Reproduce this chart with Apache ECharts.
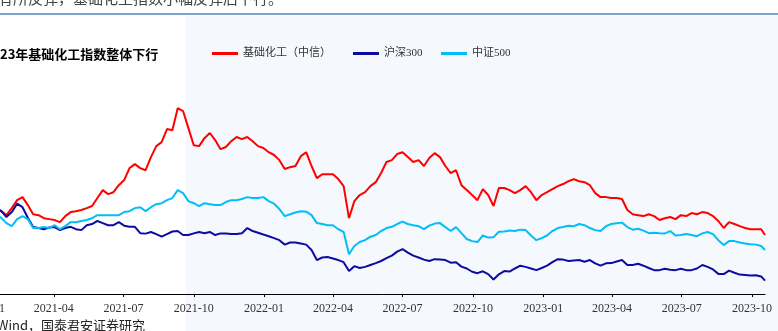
<!DOCTYPE html>
<html>
<head>
<meta charset="utf-8">
<script src="https://cdn.jsdelivr.net/npm/echarts@6/dist/echarts.min.js"></script>
<style>
  html, body { margin: 0; padding: 0; background: #ffffff; }
  #chart { width: 778px; height: 331px; }
</style>
</head>
<body>
<div id="chart"></div>
<script>
// ---------- data (start ≈ 100) ----------
const dates = [
  '2021-01-04','2021-01-08','2021-01-15',
  '2021-01-22','2021-01-29','2021-02-05','2021-02-12','2021-02-19','2021-02-26','2021-03-05','2021-03-12','2021-03-19','2021-03-26',
  '2021-04-02','2021-04-09','2021-04-16','2021-04-23','2021-04-30','2021-05-07','2021-05-14','2021-05-21','2021-05-28','2021-06-04',
  '2021-06-11','2021-06-18','2021-06-25','2021-07-02','2021-07-09','2021-07-16','2021-07-23','2021-07-30','2021-08-06','2021-08-13',
  '2021-08-20','2021-08-27','2021-09-03','2021-09-10','2021-09-17','2021-09-24','2021-10-01','2021-10-08','2021-10-15','2021-10-22',
  '2021-10-29','2021-11-05','2021-11-12','2021-11-19','2021-11-26','2021-12-03','2021-12-10','2021-12-17','2021-12-24','2021-12-31',
  '2022-01-07','2022-01-14','2022-01-21','2022-01-28','2022-02-04','2022-02-11','2022-02-18','2022-02-25','2022-03-04','2022-03-11',
  '2022-03-18','2022-03-25','2022-04-01','2022-04-08','2022-04-15','2022-04-22','2022-04-29','2022-05-06','2022-05-13','2022-05-20',
  '2022-05-27','2022-06-03','2022-06-10','2022-06-17','2022-06-24','2022-07-01','2022-07-08','2022-07-15','2022-07-22','2022-07-29',
  '2022-08-05','2022-08-12','2022-08-19','2022-08-26','2022-09-02','2022-09-09','2022-09-16','2022-09-23','2022-09-30','2022-10-07',
  '2022-10-14','2022-10-21','2022-10-28','2022-11-04','2022-11-11','2022-11-18','2022-11-25','2022-12-02','2022-12-09','2022-12-16',
  '2022-12-23','2022-12-30','2023-01-06','2023-01-13','2023-01-20','2023-01-27','2023-02-03','2023-02-10','2023-02-17','2023-02-24',
  '2023-03-03','2023-03-10','2023-03-17','2023-03-24','2023-03-31','2023-04-07','2023-04-14','2023-04-21','2023-04-28','2023-05-05',
  '2023-05-12','2023-05-19','2023-05-26','2023-06-02','2023-06-09','2023-06-16','2023-06-23','2023-06-30','2023-07-07','2023-07-14',
  '2023-07-21','2023-07-28','2023-08-04','2023-08-11','2023-08-18','2023-08-25','2023-09-01','2023-09-08','2023-09-15','2023-09-22',
  '2023-09-29','2023-10-06','2023-10-13','2023-10-18'
];

const chemical = [ // 基础化工（中信）
  100.0, 100.4, 101.7,
  100.4, 98.7, 101.7, 105.1, 106.4, 103.0, 99.1, 98.7, 97.4, 97.0,
  96.6, 95.7, 98.3, 100.0, 100.4, 100.9, 101.7, 102.6, 106.0, 109.4,
  107.7, 108.5, 111.5, 113.7, 118.8, 120.5, 118.8, 117.9, 123.5, 128.2,
  129.9, 135.5, 135.0, 144.4, 143.2, 135.9, 128.6, 128.2, 131.6, 133.8,
  130.8, 126.9, 127.8, 130.3, 132.1, 131.2, 132.1, 130.3, 128.2, 127.4,
  125.6, 124.4, 122.2, 118.4, 119.2, 119.7, 123.9, 125.6, 119.7, 114.5,
  116.2, 116.2, 116.2, 114.1, 111.1, 97.4, 104.7, 107.3, 108.5, 111.1,
  112.8, 116.7, 121.4, 122.2, 124.8, 125.6, 123.5, 121.4, 122.2, 119.7,
  123.1, 125.2, 123.5, 119.7, 116.7, 117.9, 111.5, 109.4, 107.3, 105.1,
  109.8, 107.3, 102.6, 110.3, 110.3, 109.4, 108.1, 109.4, 111.1, 108.5,
  105.1, 107.3, 108.5, 109.8, 111.1, 112.0, 113.2, 114.1, 113.2, 112.8,
  111.5, 108.1, 106.4, 106.4, 106.0, 106.0, 105.6, 100.9, 99.1, 98.7,
  98.3, 99.1, 98.3, 96.6, 97.4, 97.9, 97.0, 98.7, 98.3, 99.6,
  99.1, 100.0, 99.6, 98.3, 96.2, 93.2, 95.7, 94.9, 94.0, 93.2,
  92.7, 92.7, 92.7, 90.2
];

const hs300 = [ // 沪深300
  100.0, 100.4, 101.3,
  100.6, 97.9, 100.0, 103.6, 102.1, 97.6, 93.6, 93.2, 92.7, 93.4,
  93.6, 92.3, 93.2, 93.7, 92.7, 92.3, 94.4, 94.9, 96.2, 95.3,
  94.4, 94.4, 95.7, 94.2, 93.7, 93.7, 91.0, 90.8, 91.5, 90.6,
  89.5, 90.6, 91.7, 91.9, 90.2, 90.2, 90.9, 91.5, 91.0, 91.5,
  90.2, 90.9, 90.9, 90.6, 90.6, 91.0, 93.2, 91.9, 91.2, 90.4,
  89.7, 88.9, 88.0, 86.1, 87.0, 87.0, 86.6, 86.1, 83.8, 79.5,
  80.6, 80.8, 80.2, 79.5, 78.6, 74.8, 76.9, 76.1, 76.6, 77.4,
  78.2, 79.1, 80.3, 81.4, 83.1, 84.2, 82.7, 81.4, 80.6, 79.7,
  79.1, 79.9, 79.7, 79.5, 78.4, 78.6, 76.7, 75.9, 74.5, 73.9,
  74.7, 73.5, 71.2, 73.4, 74.8, 74.6, 75.9, 77.1, 76.6, 75.9,
  75.2, 76.1, 77.1, 78.6, 79.9, 79.7, 79.1, 79.3, 79.5, 78.8,
  79.5, 78.1, 77.1, 78.1, 78.2, 78.9, 79.5, 77.4, 77.4, 77.9,
  77.1, 76.1, 75.2, 75.2, 75.8, 75.4, 75.2, 75.8, 75.2, 75.2,
  75.9, 77.4, 76.6, 75.5, 73.6, 73.5, 75.0, 74.1, 73.3, 73.1,
  72.9, 73.0, 72.5, 70.7
];

const csi500 = [ // 中证500
  100.0, 99.6, 98.7,
  97.6, 95.3, 94.0, 97.0, 98.3, 97.0, 93.2, 93.2, 93.6, 93.2,
  94.4, 92.7, 94.0, 95.7, 95.7, 96.2, 96.6, 97.4, 98.7, 98.7,
  98.7, 98.7, 98.7, 100.0, 100.4, 101.7, 102.1, 100.4, 102.1, 103.4,
  103.8, 105.1, 106.0, 109.4, 108.1, 104.7, 103.8, 102.6, 103.8, 103.4,
  103.0, 103.0, 104.3, 105.1, 105.1, 105.6, 106.4, 106.0, 106.0, 106.4,
  104.7, 103.6, 101.3, 98.3, 99.1, 99.8, 100.4, 100.2, 98.7, 95.3,
  94.9, 94.4, 94.4, 92.7, 91.5, 82.0, 85.5, 87.2, 88.0, 89.5,
  90.2, 91.9, 93.2, 93.7, 94.9, 95.9, 94.9, 94.4, 94.0, 92.7,
  94.2, 95.1, 95.3, 93.6, 91.9, 93.6, 91.0, 88.5, 87.6, 87.2,
  90.0, 89.1, 89.3, 91.6, 91.7, 92.1, 91.9, 92.5, 92.3, 90.0,
  88.0, 88.9, 90.0, 91.9, 93.2, 93.6, 94.2, 94.0, 94.9, 94.4,
  93.2, 92.3, 91.9, 94.0, 94.9, 95.2, 95.5, 93.6, 92.5, 92.9,
  92.1, 91.0, 91.2, 91.0, 90.9, 91.9, 90.0, 90.2, 90.6, 90.2,
  89.7, 90.9, 91.5, 90.6, 88.0, 85.9, 87.6, 87.6, 87.0, 86.6,
  86.3, 86.1, 85.5, 83.8
];

const seriesNames = ['基础化工（中信）', '沪深300', '中证500'];
const tickDates = ['2021-01-01','2021-04-01','2021-07-01','2021-10-01','2022-01-01','2022-04-01',
                   '2022-07-01','2022-10-01','2023-01-01','2023-04-01','2023-07-01','2023-10-01'];
const axisStart = '2021-01-01';
const axisEnd = '2023-10-18';
const topText = '有所反弹，基础化工指数小幅反弹后下行。';
const titleText = '23年基础化工指数整体下行';
const sourceText = 'Wind，国泰君安证券研究';

// ---------- chart ----------
const ts = s => Date.parse(s + 'T00:00:00Z');
const pair = arr => dates.map((d, i) => [ts(d), arr[i]]);
const fmt = v => { const d = new Date(v); return d.getUTCFullYear() + '-' + String(d.getUTCMonth() + 1).padStart(2, '0'); };
const chart = echarts.init(document.getElementById('chart'), null, { renderer: 'canvas' });
const serif = "'Liberation Serif', 'Noto Sans CJK SC', serif";
const legendLeft = [212, 353, 441];

chart.setOption({
  backgroundColor: '#ffffff',
  animation: false,
  graphic: [
    { type: 'rect', z: -10, silent: true, shape: { x: 186, y: 16, width: 600, height: 320 }, style: { fill: '#f5f8fc' } },
    { type: 'line', silent: true, shape: { x1: 0, y1: 14, x2: 778, y2: 14 }, style: { stroke: '#4f83c3', lineWidth: 1.5 } },
    { type: 'text', silent: true, x: -2, y: -2, style: { text: topText, font: "15px 'Noto Sans CJK SC'", fill: '#444', verticalAlign: 'middle' } },
    { type: 'text', silent: true, x: 0, y: 54, style: { text: titleText, font: "bold 13px 'Noto Sans CJK SC'", fill: '#000', verticalAlign: 'middle' } },
    { type: 'text', silent: true, x: -3, y: 325, style: { text: sourceText, font: "13px 'Noto Sans CJK SC'", fill: '#222', verticalAlign: 'middle' } }
  ],
  legend: seriesNames.map((n, i) => ({
    left: legendLeft[i], top: 48, padding: 0,
    icon: 'rect', itemWidth: 26, itemHeight: 3, itemTextGap: 4,
    textStyle: { fontSize: 11, fontFamily: serif, color: '#333' },
    data: [n]
  })),
  grid: { left: -15, right: 13, top: 60, bottom: 37, containLabel: false, outerBoundsMode: 'none' },
  xAxis: {
    type: 'value',
    min: ts(axisStart), max: ts(axisEnd),
    axisLine: { show: true, lineStyle: { color: '#000', width: 1 } },
    axisTick: { show: true, length: 3, customValues: tickDates.map(ts), lineStyle: { color: '#000' } },
    axisLabel: {
      customValues: tickDates.map(ts),
      hideOverlap: false,
      margin: 9,
      fontSize: 12, fontFamily: serif, color: '#333',
      formatter: fmt
    },
    splitLine: { show: false }
  },
  yAxis: { type: 'value', min: 65, max: 165, show: false },
  series: [
    { name: seriesNames[0], type: 'line', data: pair(chemical), showSymbol: false, symbol: 'none', lineStyle: { color: '#ff0000', width: 2 }, itemStyle: { color: '#ff0000' } },
    { name: seriesNames[1], type: 'line', data: pair(hs300), showSymbol: false, symbol: 'none', lineStyle: { color: '#0c0ca3', width: 2 }, itemStyle: { color: '#0c0ca3' } },
    { name: seriesNames[2], type: 'line', data: pair(csi500), showSymbol: false, symbol: 'none', lineStyle: { color: '#00bff8', width: 2 }, itemStyle: { color: '#00bff8' } }
  ]
});
</script>
</body>
</html>
